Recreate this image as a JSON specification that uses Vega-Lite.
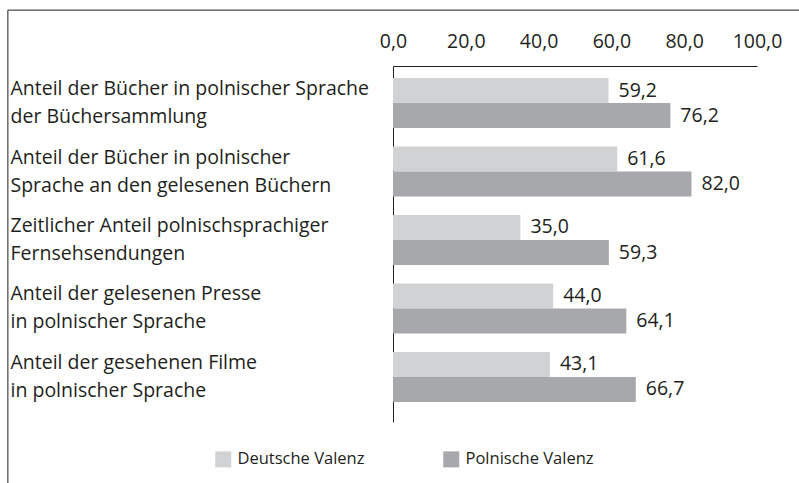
{
  "$schema": "https://vega.github.io/schema/vega-lite/v6.json",
  "width": 364,
  "height": 356,
  "autosize": {"type": "none"},
  "padding": {"left": 393, "top": 66, "right": 42, "bottom": 61},
  "background": "white",
  "config": {
    "font": "Open Sans",
    "view": {"stroke": null},
    "locale": {"number": {"decimal": ",", "thousands": ".", "grouping": [3], "currency": ["", " €"]}}
  },
  "resolve": {"scale": {"y": "independent"}},
  "layer": [
    {
      "data": {
        "values": [
          {"kategorie": "Anteil der Bücher in polnischer Sprache|der Büchersammlung", "valenz": "Deutsche Valenz", "wert": 59.2},
          {"kategorie": "Anteil der Bücher in polnischer Sprache|der Büchersammlung", "valenz": "Polnische Valenz", "wert": 76.2},
          {"kategorie": "Anteil der Bücher in polnischer|Sprache an den gelesenen Büchern", "valenz": "Deutsche Valenz", "wert": 61.6},
          {"kategorie": "Anteil der Bücher in polnischer|Sprache an den gelesenen Büchern", "valenz": "Polnische Valenz", "wert": 82.0},
          {"kategorie": "Zeitlicher Anteil polnischsprachiger|Fernsehsendungen", "valenz": "Deutsche Valenz", "wert": 35.0},
          {"kategorie": "Zeitlicher Anteil polnischsprachiger|Fernsehsendungen", "valenz": "Polnische Valenz", "wert": 59.3},
          {"kategorie": "Anteil der gelesenen Presse|in polnischer Sprache", "valenz": "Deutsche Valenz", "wert": 44.0},
          {"kategorie": "Anteil der gelesenen Presse|in polnischer Sprache", "valenz": "Polnische Valenz", "wert": 64.1},
          {"kategorie": "Anteil der gesehenen Filme|in polnischer Sprache", "valenz": "Deutsche Valenz", "wert": 43.1},
          {"kategorie": "Anteil der gesehenen Filme|in polnischer Sprache", "valenz": "Polnische Valenz", "wert": 66.7}
        ]
      },
      "encoding": {
        "y": {
          "field": "kategorie",
          "type": "nominal",
          "sort": null,
          "scale": {"paddingInner": 0.27, "paddingOuter": 0.2336, "align": 0.375},
          "axis": {
            "title": null,
            "ticks": false,
            "domainColor": "#231f20",
            "domainWidth": 1,
            "labelAlign": "left",
            "labelPadding": 383,
            "labelLimit": 400,
            "labelFontSize": 19.5,
            "labelColor": "#231f20",
            "labelLineHeight": 28,
            "labelBaseline": "middle",
            "labelOffset": -14,
            "labelExpr": "split(datum.value, '|')"
          }
        },
        "yOffset": {
          "field": "valenz",
          "type": "nominal",
          "sort": ["Deutsche Valenz", "Polnische Valenz"],
          "scale": {"paddingInner": 0, "paddingOuter": 0}
        },
        "x": {
          "field": "wert",
          "type": "quantitative",
          "scale": {"domain": [0, 100], "nice": false},
          "axis": {
            "orient": "top",
            "title": null,
            "values": [0, 20, 40, 60, 80, 100],
            "format": ".1f",
            "ticks": false,
            "grid": false,
            "domainColor": "#231f20",
            "domainWidth": 1,
            "labelFontSize": 19.5,
            "labelColor": "#231f20",
            "labelPadding": 15,
            "labelFlush": false
          }
        }
      },
      "layer": [
        {
          "mark": {"type": "bar", "size": 25},
          "encoding": {
            "color": {
              "field": "valenz",
              "type": "nominal",
              "scale": {"domain": ["Deutsche Valenz", "Polnische Valenz"], "range": ["#d1d2d4", "#a7a8ab"]},
              "legend": {
                "title": null,
                "orient": "none",
                "legendX": -178,
                "legendY": 385,
                "direction": "horizontal",
                "symbolType": "square",
                "symbolSize": 256,
                "symbolStrokeWidth": 0,
                "symbolOpacity": 1,
                "labelFontSize": 16.5,
                "labelColor": "#231f20",
                "labelOffset": 6,
                "columnPadding": 78,
                "padding": 0
              }
            }
          }
        },
        {
          "mark": {"type": "text", "align": "left", "baseline": "middle", "dx": 10, "fontSize": 19.5, "color": "#231f20"},
          "encoding": {
            "text": {"field": "wert", "type": "quantitative", "format": ".1f"}
          }
        }
      ]
    },
    {
      "data": {"values": [{}]},
      "mark": {"type": "rule", "color": "#231f20", "strokeWidth": 1},
      "encoding": {
        "x": {"datum": -105.8, "type": "quantitative"},
        "y": {"datum": 1.157, "type": "quantitative", "scale": {"domain": [0, 1], "nice": false, "zero": false}, "axis": null},
        "y2": {"datum": -0.3}
      }
    },
    {
      "data": {"values": [{}]},
      "mark": {"type": "rule", "color": "#231f20", "strokeWidth": 1},
      "encoding": {
        "x": {"datum": -105.8, "type": "quantitative"},
        "x2": {"datum": 130},
        "y": {"datum": 1.157, "type": "quantitative", "scale": {"domain": [0, 1], "nice": false, "zero": false}, "axis": null}
      }
    }
  ]
}
